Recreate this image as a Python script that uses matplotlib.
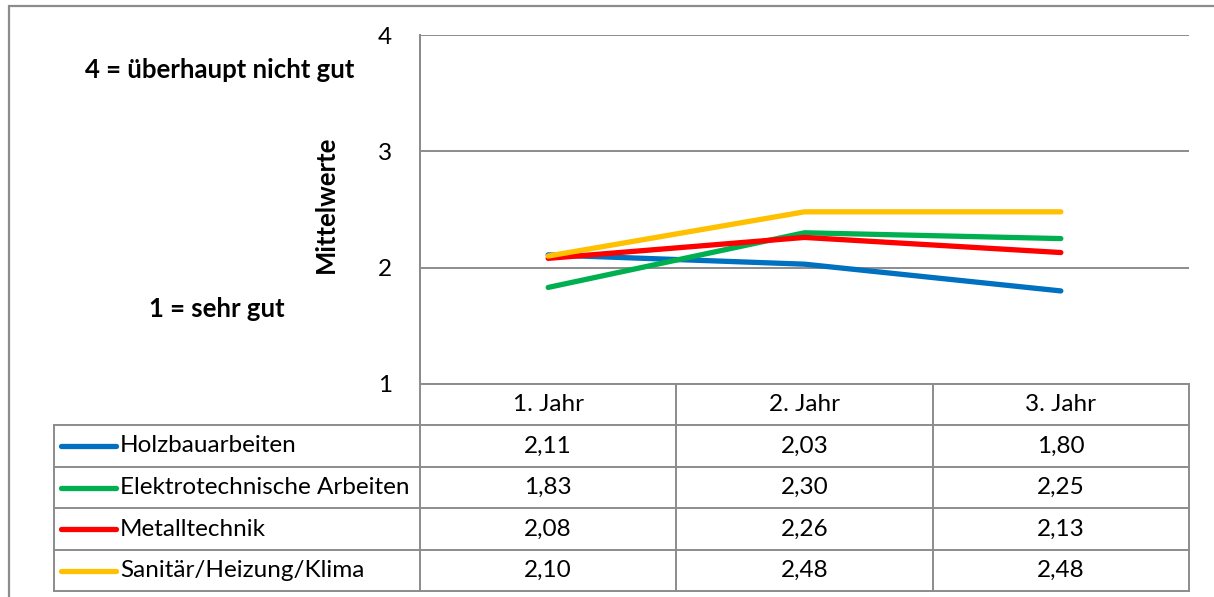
#!/usr/bin/env python3

import matplotlib
matplotlib.use('Agg')
import matplotlib.pyplot as plt

plt.rcParams['font.family'] = ['Lato', 'DejaVu Sans']

years = ['1. Jahr', '2. Jahr', '3. Jahr']
series_names = ['Holzbauarbeiten', 'Elektrotechnische Arbeiten',
                'Metalltechnik', 'Sanitär/Heizung/Klima']
holzbau = [2.11, 2.03, 1.80]
elektro = [1.83, 2.30, 2.25]
metall = [2.08, 2.26, 2.13]
sanitaer = [2.10, 2.48, 2.48]
colors = ['#0070C0', '#00B050', '#FF0000', '#FFC000']

W, H = 1214, 597
GRID = '#8c8c8c'
TXT = 17.5
BOLD = 18.5


def fmt(v):
    return '{:.2f}'.format(v).replace('.', ',')


def main():
    fig = plt.figure(figsize=(W / 100, H / 100), dpi=100)

    # pixel-space layer for the frame and the data table
    bg = fig.add_axes([0, 0, 1, 1])
    bg.set_xlim(0, W)
    bg.set_ylim(H, 0)
    bg.axis('off')

    x_left, x_right = 420, 1189
    y_top, y_bot = 35, 384
    tab_left = 54
    row_edges = [384, 425, 467, 508, 550, 591]
    col_w = (x_right - x_left) / len(years)
    col_edges = [x_left + i * col_w for i in range(len(years) + 1)]

    # outer chart border (runs off the right and bottom edge)
    bg.plot([9, 9, W + 5], [H + 5, 6, 6], color=GRID, lw=1.6,
            solid_joinstyle='miter')

    ax = fig.add_axes([x_left / W, 1 - y_bot / H,
                       (x_right - x_left) / W, (y_bot - y_top) / H])
    ax.patch.set_alpha(0)
    ax.set_xlim(-0.5, len(years) - 0.5)
    ax.set_ylim(1, 4)
    ax.set_yticks([1, 2, 3, 4])
    ax.set_yticklabels(['1', '2', '3', '4'], fontsize=TXT)
    ax.set_xticks([])
    ax.tick_params(axis='y', length=0, pad=20)
    for s in ['top', 'right', 'bottom']:
        ax.spines[s].set_visible(False)
    ax.spines['left'].set_color(GRID)
    ax.spines['left'].set_linewidth(1.4)
    ax.yaxis.grid(True, color=GRID, lw=1.4)
    ax.set_axisbelow(True)

    data = [holzbau, elektro, metall, sanitaer]
    xs = list(range(len(years)))
    for vals, c in zip(data, colors):
        ax.plot(xs, vals, color=c, lw=3.8, solid_capstyle='round',
                solid_joinstyle='round', clip_on=False)

    ax.set_ylabel('Mittelwerte', fontsize=BOLD, fontweight='bold')
    ax.yaxis.set_label_coords((338 - x_left) / (x_right - x_left),
                              (y_bot - 204) / (y_bot - y_top))

    bg.text(220, 70, '4 = überhaupt nicht gut', fontsize=BOLD,
            fontweight='bold', ha='center', va='center')
    bg.text(217, 309, '1 = sehr gut', fontsize=BOLD,
            fontweight='bold', ha='center', va='center')

    # data table
    lw = 1.4
    bg.plot([x_left, x_left], [y_top, row_edges[-1]], color=GRID, lw=lw)
    for i, y in enumerate(row_edges):
        x0 = x_left if i == 0 else tab_left
        bg.plot([x0, x_right], [y, y], color=GRID, lw=lw)
    for x in col_edges[1:]:
        bg.plot([x, x], [row_edges[0], row_edges[-1]], color=GRID, lw=lw)
    bg.plot([tab_left, tab_left], [row_edges[1], row_edges[-1]],
            color=GRID, lw=lw)

    def row_mid(i):
        return (row_edges[i] + row_edges[i + 1]) / 2

    for j, yr in enumerate(years):
        bg.text((col_edges[j] + col_edges[j + 1]) / 2, row_mid(0), yr,
                fontsize=TXT, ha='center', va='center')

    for i, (name, vals, c) in enumerate(zip(series_names, data, colors)):
        ym = row_mid(i + 1)
        bg.plot([61, 116], [ym, ym], color=c, lw=3.8,
                solid_capstyle='round')
        bg.text(120, ym, name, fontsize=TXT, ha='left', va='center')
        for j, v in enumerate(vals):
            bg.text((col_edges[j] + col_edges[j + 1]) / 2, ym, fmt(v),
                    fontsize=TXT, ha='center', va='center')

    fig.savefig('out.png', dpi=100)


if __name__ == '__main__':
    main()
